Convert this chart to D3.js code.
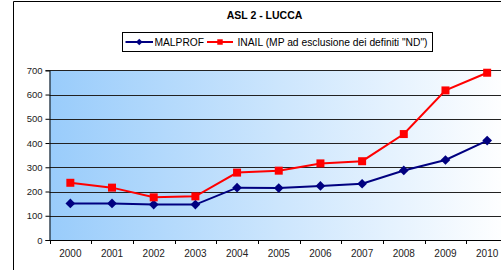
<!DOCTYPE html>
<html>
<head>
<meta charset="utf-8">
<script src="https://cdn.jsdelivr.net/npm/d3@7"></script>
<style>
  body { margin: 0; background: #fff; }
  svg { display: block; font-family: "Liberation Sans", Arial, sans-serif; }
</style>
</head>
<body>
<div id="chart"></div>
<script>
const years = ["2000", "2001", "2002", "2003", "2004", "2005", "2006", "2007", "2008", "2009", "2010"];
const malprof = [151, 151, 146, 146, 216, 214, 223, 232, 287, 330, 410];
const inail = [236, 216, 176, 180, 278, 286, 316, 325, 437, 617, 690];
const yTicks = [0, 100, 200, 300, 400, 500, 600, 700];
const seriesNames = ["MALPROF", "INAIL (MP ad esclusione dei definiti \"ND\")"];

const width = 501, height = 270;
const margin = { left: 49.5, top: 70.3, bottom: 30 };
const plotRight = 508;

const svg = d3.select("#chart").append("svg")
  .attr("width", width)
  .attr("height", height);

// outer chart frame (cropped on the right / bottom)
svg.append("path")
  .attr("d", `M13.5,${height + 2} V1.5 H${width + 2}`)
  .attr("fill", "none")
  .attr("stroke", "#000")
  .attr("stroke-width", 1);

svg.append("text")
  .attr("x", 264.5)
  .attr("y", 19)
  .attr("text-anchor", "middle")
  .attr("font-size", 10.5)
  .attr("font-weight", "bold")
  .attr("fill", "#000")
  .text("ASL 2 - LUCCA");

const x = d3.scaleBand()
  .domain(years)
  .range([margin.left, plotRight]);

const y = d3.scaleLinear()
  .domain([0, 700])
  .range([height - margin.bottom, margin.top]);

// gradient background
const defs = svg.append("defs");
const grad = defs.append("linearGradient")
  .attr("id", "bg")
  .attr("x1", "0%").attr("x2", "100%")
  .attr("y1", "0%").attr("y2", "0%");
grad.append("stop").attr("offset", "0%").attr("stop-color", "#99ccfb");
grad.append("stop").attr("offset", "100%").attr("stop-color", "#ffffff");

svg.append("rect")
  .attr("x", margin.left)
  .attr("y", y(700))
  .attr("width", plotRight - margin.left)
  .attr("height", y(0) - y(700))
  .attr("fill", "url(#bg)");

// gridlines
svg.append("g")
  .selectAll("line")
  .data(yTicks.filter(d => d > 0))
  .join("line")
  .attr("x1", margin.left)
  .attr("x2", plotRight)
  .attr("y1", d => Math.round(y(d)) + 0.5)
  .attr("y2", d => Math.round(y(d)) + 0.5)
  .attr("stroke", "#222")
  .attr("stroke-width", 1);

// y axis
const yAxis = g => g
  .call(d3.axisLeft(y).tickValues(yTicks).tickSize(4).tickPadding(3))
  .call(g => g.selectAll(".tick text").attr("font-size", 9.5).attr("fill", "#222").attr("font-family", "Liberation Sans, Arial, sans-serif"))
  .call(g => g.selectAll(".tick line").attr("stroke", "#000"))
  .call(g => g.select(".domain").attr("stroke", "#000"));

svg.append("g")
  .attr("transform", `translate(${margin.left},0)`)
  .call(yAxis);

// x axis
const xAxis = g => g
  .call(d3.axisBottom(x).tickSize(0).tickPadding(9.5))
  .call(g => g.selectAll(".tick text").attr("font-size", 10).attr("fill", "#222").attr("font-family", "Liberation Sans, Arial, sans-serif"))
  .call(g => g.select(".domain").attr("stroke", "#000"));

svg.append("g")
  .attr("transform", `translate(0,${y(0)})`)
  .call(xAxis);

// category separator ticks
svg.append("g")
  .selectAll("line")
  .data(years)
  .join("line")
  .attr("x1", d => Math.round(x(d)) + 0.5)
  .attr("x2", d => Math.round(x(d)) + 0.5)
  .attr("y1", y(0))
  .attr("y2", y(0) + 4)
  .attr("stroke", "#000");

const cx = d => x(d) + x.bandwidth() / 2;

const line = d3.line()
  .x(d => cx(d.year))
  .y(d => y(d.value));

const malData = years.map((yr, i) => ({ year: yr, value: malprof[i] }));
const inaData = years.map((yr, i) => ({ year: yr, value: inail[i] }));

svg.append("path")
  .datum(malData)
  .attr("d", line)
  .attr("fill", "none")
  .attr("stroke", "#000080")
  .attr("stroke-width", 2);

svg.append("path")
  .datum(inaData)
  .attr("d", line)
  .attr("fill", "none")
  .attr("stroke", "#ff0000")
  .attr("stroke-width", 2);

const diamond = d3.symbol().type(d3.symbolDiamond2).size(60);
const square = d3.symbol().type(d3.symbolSquare).size(64);

svg.append("g")
  .selectAll("path")
  .data(malData)
  .join("path")
  .attr("d", diamond)
  .attr("transform", d => `translate(${cx(d.year)},${y(d.value)})`)
  .attr("fill", "#000080");

svg.append("g")
  .selectAll("path")
  .data(inaData)
  .join("path")
  .attr("d", square)
  .attr("transform", d => `translate(${cx(d.year)},${y(d.value)})`)
  .attr("fill", "#ff0000");

// legend
const legend = svg.append("g");
legend.append("rect")
  .attr("x", 122.5)
  .attr("y", 32.5)
  .attr("width", 310)
  .attr("height", 19)
  .attr("fill", "#fff")
  .attr("stroke", "#000");

const legendItems = [
  { name: seriesNames[0], color: "#000080", sym: d3.symbolDiamond2, size: 28, x0: 125.5, x1: 153, tx: 154.5, tw: 49.5 },
  { name: seriesNames[1], color: "#ff0000", sym: d3.symbolSquare, size: 30, x0: 207, x1: 233, tx: 237.5, tw: 190 }
];

legendItems.forEach(it => {
  legend.append("line")
    .attr("x1", it.x0).attr("x2", it.x1)
    .attr("y1", 42).attr("y2", 42)
    .attr("stroke", it.color).attr("stroke-width", 2);
  legend.append("path")
    .attr("d", d3.symbol().type(it.sym).size(it.size)())
    .attr("transform", `translate(${(it.x0 + it.x1) / 2},42)`)
    .attr("fill", it.color);
  legend.append("text")
    .attr("x", it.tx)
    .attr("y", 45.5)
    .attr("font-size", 10)
    .attr("fill", "#000")
    .attr("textLength", it.tw)
    .attr("lengthAdjust", "spacingAndGlyphs")
    .text(it.name);
});
</script>
</body>
</html>
